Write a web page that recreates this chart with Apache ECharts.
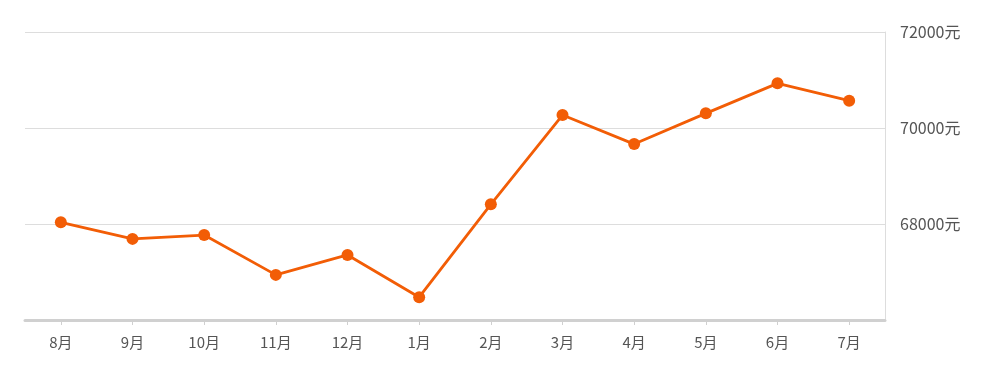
<!DOCTYPE html>
<html><head><meta charset="utf-8">
<script src="https://cdn.jsdelivr.net/npm/echarts@6/dist/echarts.min.js"></script>
<style>html,body{margin:0;padding:0;background:#fff}#c{width:988px;height:378px}</style>
</head><body><div id="c"></div>
<script>
const categories = ['8月','9月','10月','11月','12月','1月','2月','3月','4月','5月','6月','7月'];
const prices = [68035, 67690, 67770, 66940, 67355, 66475, 68410, 70270, 69665, 70305, 70930, 70570];
const yMin = 66000, yMax = 72000, yStep = 2000;
const unit = '元';

const chart = echarts.init(document.getElementById('c'), null, {renderer:'canvas'});
chart.setOption({
  animation: false,
  backgroundColor: '#fff',
  grid: {left: 25, right: 103, top: 32, bottom: 58, containLabel: false},
  xAxis: {
    type: 'category', data: categories, boundaryGap: true,
    axisLine: {show: true, lineStyle: {color: '#d0d0d0', width: 3}},
    axisTick: {show: true, alignWithLabel: true, length: 5, lineStyle: {color: '#d0d0d0'}},
    axisLabel: {color: '#555', fontSize: 15, margin: 15, fontFamily: 'Noto Sans CJK SC'}
  },
  yAxis: {
    type: 'value', position: 'right', min: yMin, max: yMax, interval: yStep,
    axisLine: {show: true, lineStyle: {color: '#dddddd', width: 1}},
    axisTick: {show: false},
    splitLine: {show: true, lineStyle: {color: '#dddddd', width: 1}},
    axisLabel: {color: '#555', fontSize: 16, margin: 15, fontFamily: 'Noto Sans CJK SC',
      formatter: v => v === yMin ? '' : v + unit}
  },
  series: [{
    type: 'line', data: prices,
    symbol: 'circle', symbolSize: 12,
    lineStyle: {color: '#f25d06', width: 2.8},
    itemStyle: {color: '#f25d06'}
  }]
});
</script></body></html>
